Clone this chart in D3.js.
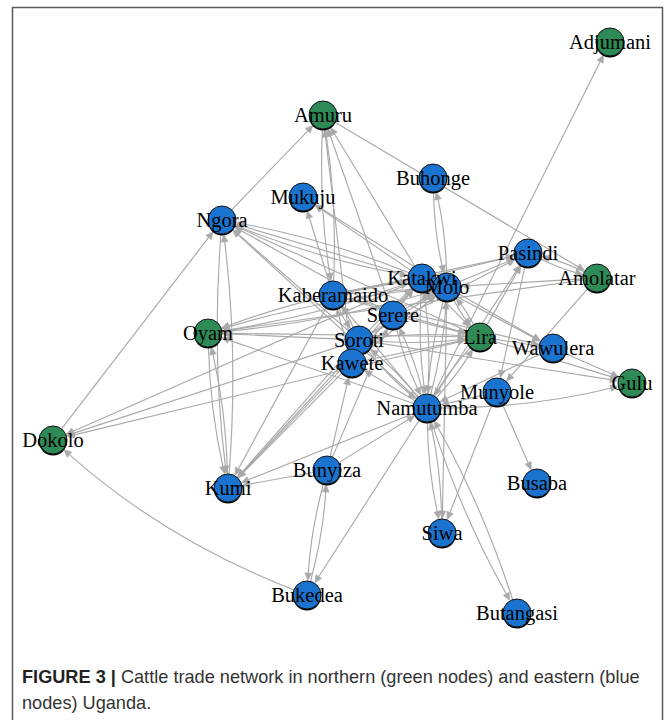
<!DOCTYPE html>
<html>
<head>
<meta charset="utf-8">
<script src="https://cdn.jsdelivr.net/npm/d3@7"></script>
<style>
  html, body { margin: 0; padding: 0; background: #fff; }
  svg { display: block; }
</style>
</head>
<body>
<svg id="chart" width="668" height="720"></svg>
<script>
// Districts (vertices), their region and the plotted layout coordinates
const nodeNames = ["Adjumani","Amuru","Mukuju","Ngora","Buhonge","Pasindi","Amolatar","Katakwi","Molo",
  "Kaberamaido","Serere","Oyam","Soroti","Lira","Wawulera","Kawete","Gulu","Munyole","Namutumba",
  "Dokolo","Bunyiza","Kumi","Busaba","Siwa","Bukedea","Butangasi"];
const nodeRegion = ["north","north","east","east","east","east","north","east","east",
  "east","east","north","east","north","east","east","north","east","east",
  "north","east","east","east","east","east","east"];
const layoutX = [610,323,303,222,433,528,597,422,447,333,393,208,359,480,553,352,632,497,427,53,327,228,537,442,307,517];
const layoutY = [42,115,197,220,178,253,278,278,287,295,315,333,340,337,348,363,383,392,408,440,470,488,483,533,595,613];

// Directed trade links (source -> destination)
const edgeFrom = [
  "Namutumba","Ngora","Dokolo","Amuru","Kaberamaido","Amuru","Kawete","Serere","Katakwi",
  "Kaberamaido","Katakwi","Molo",
  "Ngora","Kumi","Oyam","Kumi",
  "Katakwi","Molo","Lira","Soroti","Namutumba","Serere",
  "Katakwi","Molo","Lira","Namutumba","Soroti","Amolatar",
  "Katakwi","Soroti","Lira","Bukedea",
  "Kaberamaido","Soroti","Kawete","Serere","Namutumba","Bunyiza","Katakwi",
  "Bunyiza","Bukedea","Namutumba","Bunyiza","Bunyiza","Bunyiza",
  "Namutumba","Siwa","Molo","Munyole",
  "Namutumba","Butangasi","Munyole","Munyole","Wawulera","Amolatar","Pasindi",
  "Wawulera","Lira","Soroti","Namutumba",
  "Katakwi","Molo","Lira","Kaberamaido",
  "Pasindi","Amolatar","Amolatar",
  "Lira","Namutumba","Katakwi","Molo","Kaberamaido","Soroti",
  "Buhonge","Molo","Molo","Lira","Katakwi","Lira","Namutumba","Soroti","Lira",
  "Kaberamaido","Serere","Kawete",
  "Katakwi","Namutumba","Molo","Namutumba","Soroti","Namutumba",
  "Namutumba","Serere","Namutumba","Namutumba",
  "Soroti","Soroti","Kaberamaido","Kaberamaido","Serere","Serere","Kawete","Kawete",
  "Kaberamaido","Soroti","Kawete","Oyam","Ngora","Oyam"
];
const edgeTo = [
  "Adjumani","Amuru","Ngora","Amolatar","Amuru","Kaberamaido","Amuru","Amuru","Amuru",
  "Mukuju","Mukuju","Mukuju",
  "Kumi","Ngora","Kumi","Oyam",
  "Ngora","Ngora","Ngora","Ngora","Ngora","Ngora",
  "Oyam","Oyam","Oyam","Oyam","Oyam","Oyam",
  "Dokolo","Dokolo","Dokolo","Dokolo",
  "Kumi","Kumi","Kumi","Kumi","Kumi","Kumi","Kumi",
  "Bukedea","Bunyiza","Bukedea","Kawete","Serere","Namutumba",
  "Siwa","Namutumba","Siwa","Siwa",
  "Butangasi","Namutumba","Busaba","Namutumba","Namutumba","Munyole","Munyole",
  "Gulu","Gulu","Gulu","Gulu",
  "Wawulera","Wawulera","Wawulera","Wawulera",
  "Amolatar","Pasindi","Molo",
  "Pasindi","Pasindi","Pasindi","Pasindi","Pasindi","Pasindi",
  "Molo","Buhonge","Lira","Molo","Lira","Namutumba","Lira","Lira","Soroti",
  "Lira","Lira","Lira",
  "Namutumba","Katakwi","Namutumba","Molo","Namutumba","Soroti",
  "Kawete","Namutumba","Serere","Kaberamaido",
  "Katakwi","Molo","Katakwi","Molo","Katakwi","Molo","Katakwi","Molo",
  "Soroti","Kaberamaido","Kaberamaido","Molo","Katakwi","Katakwi"
];
// Links drawn as a single bowed arc, with their bend
const arcFrom = ["Bukedea","Namutumba"];
const arcTo = ["Dokolo","Gulu"];
const arcBend = [-0.045, 0.03];
// Bend given to each of two opposite links between the same pair
const mutualBend = 0.025;

const captionBold = "FIGURE 3 |";
const captionLine1 = " Cattle trade network in northern (green nodes) and eastern (blue";
const captionLine2 = "nodes) Uganda.";

const regionColor = d3.scaleOrdinal().domain(["north","east"]).range(["#2e8b57","#1a74cf"]);

const svg = d3.select("#chart");
const W = 668, H = 720;

// Figure frame
svg.append("path")
  .attr("d", `M12.5,${H+2} V7.5 H662.5 V${H+2}`)
  .attr("fill", "none").attr("stroke", "#5a5a5a").attr("stroke-width", 1.5);

const x = d3.scaleLinear().domain(d3.extent(layoutX)).range([53, 632]);
const y = d3.scaleLinear().domain(d3.extent(layoutY)).range([42, 613]);

const nodes = nodeNames.map((n, i) => ({ name: n, region: nodeRegion[i], px: x(layoutX[i]), py: y(layoutY[i]) }));
const byName = new Map(nodes.map(d => [d.name, d]));

const links = edgeFrom.map((s, i) => ({ source: byName.get(s), target: byName.get(edgeTo[i]) }));
const pairKey = (a, b) => a + "|" + b;
const present = new Set(edgeFrom.map((s, i) => pairKey(s, edgeTo[i])));
const arcMap = new Map(arcFrom.map((s, i) => [pairKey(s, arcTo[i]), arcBend[i]]));
links.forEach(l => {
  const k = pairKey(l.source.name, l.target.name);
  if (arcMap.has(k)) l.curve = arcMap.get(k);
  else if (present.has(pairKey(l.target.name, l.source.name))) l.curve = mutualBend;
  else l.curve = 0;
});

const R = 14, arrowLen = 8, arrowHalf = 3.4;
const edgeColor = "#a9a9a9";

function geometry(l) {
  const p0 = [l.source.px, l.source.py], p2 = [l.target.px, l.target.py];
  const dx = p2[0] - p0[0], dy = p2[1] - p0[1];
  const len = Math.hypot(dx, dy);
  // control point offset perpendicular to the chord
  const nx = -dy / len, ny = dx / len;
  const c = [(p0[0] + p2[0]) / 2 + nx * l.curve * len * 2, (p0[1] + p2[1]) / 2 + ny * l.curve * len * 2];
  const u0 = [c[0] - p0[0], c[1] - p0[1]]; const l0 = Math.hypot(u0[0], u0[1]);
  const u2 = [c[0] - p2[0], c[1] - p2[1]]; const l2 = Math.hypot(u2[0], u2[1]);
  const start = [p0[0] + u0[0] / l0 * R, p0[1] + u0[1] / l0 * R];
  const tip = [p2[0] + u2[0] / l2 * (R + 0.5), p2[1] + u2[1] / l2 * (R + 0.5)];
  const base = [p2[0] + u2[0] / l2 * (R + arrowLen), p2[1] + u2[1] / l2 * (R + arrowLen)];
  const px = -u2[1] / l2, py = u2[0] / l2;
  return { start, c, tip, base, px, py };
}

const gEdges = svg.append("g");
links.forEach(l => {
  const g = geometry(l);
  const path = d3.path();
  path.moveTo(g.start[0], g.start[1]);
  path.quadraticCurveTo(g.c[0], g.c[1], g.base[0], g.base[1]);
  gEdges.append("path").attr("d", path.toString())
    .attr("fill", "none").attr("stroke", edgeColor).attr("stroke-width", 1.15);
  gEdges.append("path")
    .attr("d", `M${g.tip[0]},${g.tip[1]} L${g.base[0] + g.px * arrowHalf},${g.base[1] + g.py * arrowHalf} L${g.base[0] - g.px * arrowHalf},${g.base[1] - g.py * arrowHalf} Z`)
    .attr("fill", edgeColor).attr("stroke", edgeColor).attr("stroke-width", 0.6);
});

// Vertices with a dark lower rim
const gNodes = svg.append("g");
gNodes.selectAll("circle.rim").data(nodes).join("circle")
  .attr("class", "rim").attr("cx", d => d.px).attr("cy", d => d.py + 1.6).attr("r", R).attr("fill", "#000");
gNodes.selectAll("circle.node").data(nodes).join("circle")
  .attr("class", "node").attr("cx", d => d.px).attr("cy", d => d.py).attr("r", R)
  .attr("fill", d => regionColor(d.region)).attr("stroke", "#111").attr("stroke-width", 1);

svg.append("g").selectAll("text").data(nodes).join("text")
  .attr("x", d => d.px).attr("y", d => d.py).attr("dy", "0.36em")
  .attr("text-anchor", "middle")
  .attr("font-family", "'Liberation Serif', 'Times New Roman', serif")
  .attr("font-size", 20.5).attr("fill", "#000")
  .text(d => d.name);

// Caption
const cap = svg.append("g").attr("font-family", "'Liberation Sans', Arial, sans-serif").attr("fill", "#333");
const t1 = cap.append("text").attr("x", 22).attr("y", 683).attr("font-size", 16.5);
t1.append("tspan").attr("font-weight", "bold").attr("fill", "#222").text(captionBold);
t1.append("tspan").text(captionLine1);
const w1 = t1.node().getComputedTextLength();
const fs = 16.5 * 618 / w1;
t1.attr("font-size", fs);
cap.append("text").attr("x", 22).attr("y", 709).attr("font-size", fs).text(captionLine2);
</script>
</body>
</html>
